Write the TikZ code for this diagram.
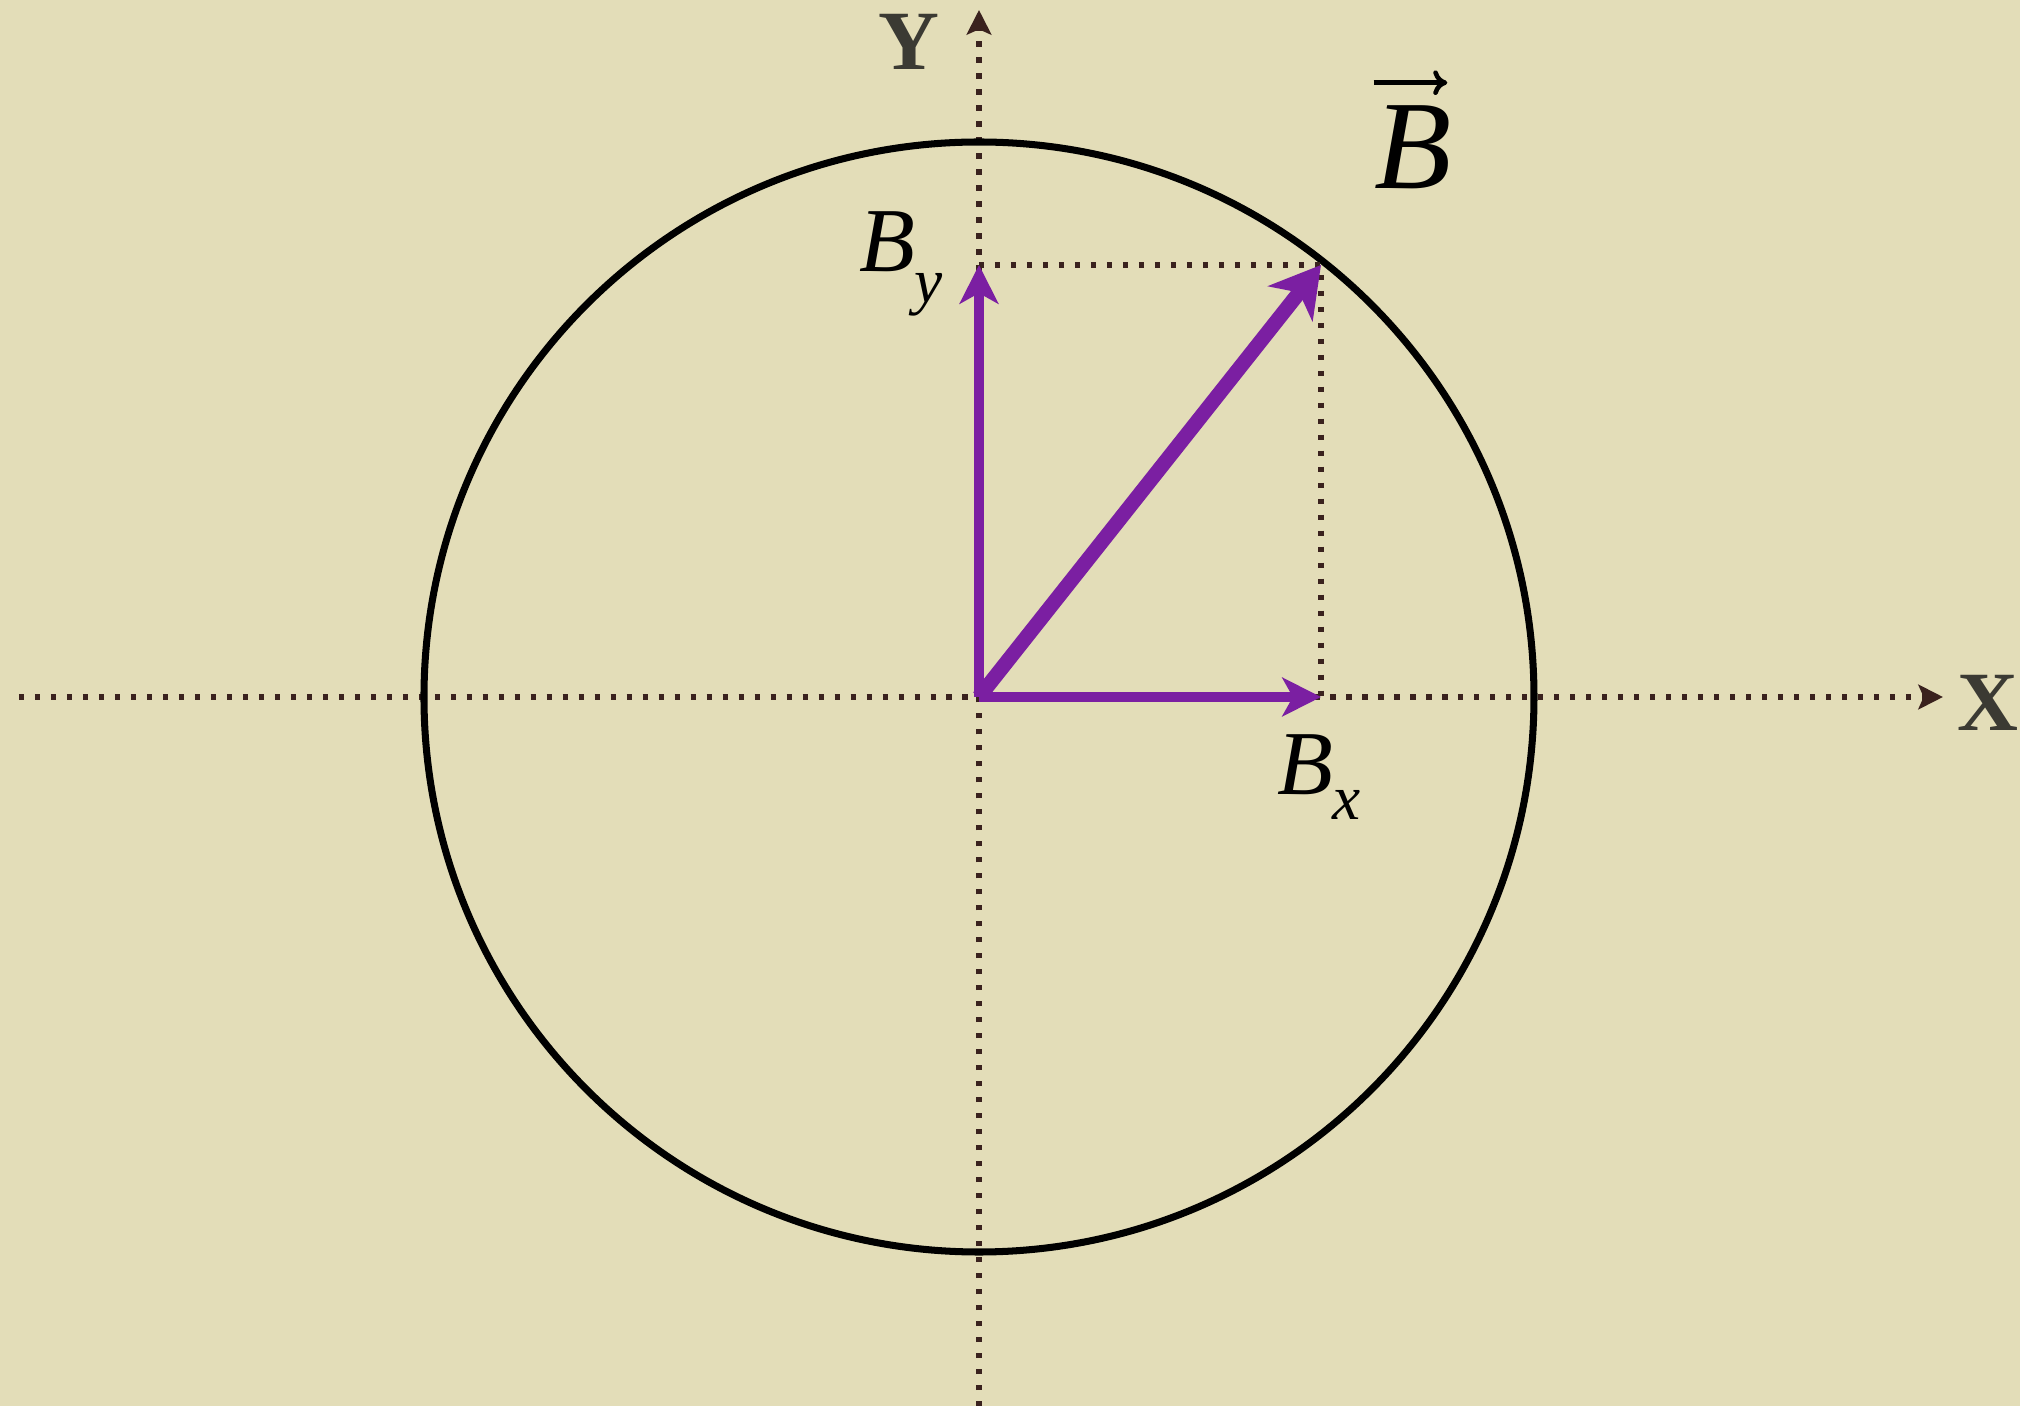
\documentclass[tikz,border=0pt]{standalone}
\usepackage{fontspec}
\setmainfont{Liberation Serif}
\usetikzlibrary{positioning,arrows.meta,calc}
\definecolor{paperBg}{RGB}{227,221,184}
\definecolor{axisDot}{RGB}{58,34,30}
\definecolor{axisText}{RGB}{59,58,51}
\definecolor{vecPurple}{RGB}{123,31,162}

\begin{document}
\begin{tikzpicture}[
    axisline/.style={draw=axisDot, line width=1.5pt, dash pattern=on 1.5pt off 3.05pt,
      -{Stealth[length=7pt, width=7pt, inset=1.5pt]}},
    projline/.style={draw=axisDot, line width=1.5pt, dash pattern=on 1.5pt off 3.05pt},
    compvec/.style={draw=vecPurple, line width=2.8pt,
      -{Stealth[length=11pt, width=11pt, inset=3pt]}},
    mainvec/.style={draw=vecPurple, line width=4.2pt,
      -{Stealth[length=14pt, width=16pt, inset=4pt]}},
    axislabel/.style={text=axisText, font=\fontsize{24}{28}\selectfont\bfseries},
    complabel/.style={font=\fontsize{26}{30}\selectfont\itshape, inner sep=0pt}
  ]
  \useasboundingbox (-9.79,-7.09) rectangle (10.41,6.97);
  \fill[paperBg] (-9.79,-7.09) rectangle (10.41,6.97);

  % axes
  \coordinate (O) at (0,0);
  \coordinate (xl) at (-9.60,0);
  \coordinate (xr) at (9.64,0);
  \coordinate (yb) at (0,-7.09);
  \coordinate (yt) at (0,6.87);
  \draw[axisline] (xl) -- (xr);
  \draw[axisline] (yb) -- (yt);
  \node[axislabel] (xlab) at (10.09,-0.06) {X};
  \node[axislabel] (ylab) at (-0.70,6.55) {Y};

  % circle
  \draw[black, line width=2pt] (O) circle (5.55);

  % vector and its components
  \coordinate (Btip) at (3.42,4.32);
  \coordinate (Bxp) at (Btip |- O);
  \coordinate (Byp) at (Btip -| O);
  \draw[projline] (Byp) -- (Btip) -- (Bxp);
  \draw[compvec] (O) -- (Bxp);
  \draw[compvec] (O) -- (Byp);
  \draw[mainvec] (O) -- (Btip);

  % labels
  \node[complabel] (bylab) at (-0.78,4.33)
    {B\raisebox{-9pt}{\fontsize{18}{20}\selectfont\itshape y}};
  \node[complabel] (bxlab) at (3.40,-0.80)
    {B\raisebox{-7pt}{\fontsize{18}{20}\selectfont\itshape x}};
  \node[font=\fontsize{36}{40}\selectfont\itshape, inner sep=0pt] (blab) at (4.34,5.50) {B};
  \draw[line width=1.3pt, -{To[length=4pt, width=7pt]}]
    ($(blab.north west)+(0.0,0.22)$) -- ($(blab.north east)+(-0.05,0.22)$);
\end{tikzpicture}
\end{document}
